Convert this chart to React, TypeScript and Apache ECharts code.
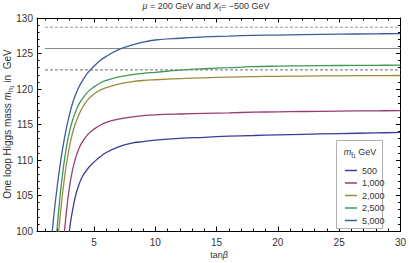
import React, { useEffect, useRef } from "react";
import * as echarts from "echarts";

// tan(beta) sample points
const tanBeta = [1.5, 1.75, 2, 2.25, 2.5, 2.75, 3, 3.25, 3.5, 3.75, 4, 4.5, 5, 5.5, 6, 7, 8, 9, 10, 12, 14, 16, 18, 20, 22, 25, 28, 30];

// One-loop Higgs mass (GeV) for each stop mass
const mh500 = [null, null, null, null, 88, 94.5, 100.1, 102.9, 105.0, 106.4, 107.5, 108.8, 109.7, 110.45, 111.05, 111.85, 112.35, 112.6, 112.8, 113.05, 113.2, 113.35, 113.45, 113.55, 113.62, 113.72, 113.82, 113.88];
const mh1000 = [null, null, 88, 93.5, 98.3, 102.7, 106.2, 108.6, 110.3, 111.5, 112.4, 113.6, 114.35, 114.9, 115.3, 115.75, 116.05, 116.25, 116.36, 116.48, 116.57, 116.65, 116.73, 116.78, 116.83, 116.88, 116.93, 116.95];
const mh2000 = [null, 91, 97.6, 102.3, 106.2, 109.4, 111.9, 113.8, 115.2, 116.3, 117.2, 118.5, 119.3, 119.85, 120.2, 120.7, 121.0, 121.2, 121.3, 121.45, 121.58, 121.67, 121.74, 121.79, 121.82, 121.86, 121.89, 121.9];
const mh2500 = [88, 95, 100.6, 105.2, 108.9, 111.8, 114.0, 115.6, 116.8, 117.8, 118.5, 119.6, 120.3, 120.85, 121.2, 121.7, 122.0, 122.2, 122.35, 122.65, 122.85, 123.0, 123.15, 123.22, 123.27, 123.31, 123.34, 123.35];
const mh5000 = [98.3, 102.6, 106.3, 109.5, 112.2, 114.5, 116.4, 118.0, 119.2, 120.2, 121.0, 122.3, 123.2, 124.0, 124.6, 125.55, 126.15, 126.6, 126.9, 127.15, 127.35, 127.45, 127.55, 127.6, 127.65, 127.72, 127.77, 127.8];

const seriesNames = ["500", "1,000", "2,000", "2,500", "5,000"];
const seriesValues = [mh500, mh1000, mh2000, mh2500, mh5000];
const seriesColors = ["#3d3d99", "#993d71", "#998c3d", "#3d9954", "#3d5c99"];

// Reference Higgs mass band
const refX = [1, 30];
const higgsCentral = 125.7;
const higgsLow = 122.7;
const higgsHigh = 128.7;

// ticks
const xMajor = [5, 10, 15, 20, 25, 30];
const xMinor = Array.from({ length: 30 }, (_, i) => i + 1);

const FONT = "'Liberation Sans', Arial, sans-serif";

export default function App() {
  const ref = useRef<HTMLDivElement>(null);
  useEffect(() => {
    const chart = echarts.init(ref.current!, undefined, { renderer: "svg" });
    const xBase = { type: "value", min: 0.35, max: 30, splitLine: { show: false }, gridIndex: 0 };
    const yBase = { type: "value", min: 100, max: 130, interval: 5, splitLine: { show: false }, minorSplitLine: { show: false } };
    const lineBlack = { show: true, lineStyle: { color: "#000", width: 1 } };
    const curves = seriesNames.map((name, i) => ({
      name,
      type: "line",
      data: tanBeta.map((t, j) => [t, seriesValues[i][j]]),
      showSymbol: false,
      symbol: "none",
      smooth: 0.4,
      clip: true,
      lineStyle: { color: seriesColors[i], width: 1.3 },
      itemStyle: { color: seriesColors[i] },
      z: 3,
    }));
    const refLine = (v: number, dashed: boolean, color: string) => ({
      type: "line",
      data: refX.map((x) => [x, v]),
      showSymbol: false,
      symbol: "none",
      silent: true,
      lineStyle: { color, width: 1.1, type: dashed ? [3, 2] : "solid" },
      z: 2,
    });
    chart.setOption({
      animation: false,
      grid: { left: 37, right: 7, top: 18, bottom: 32, containLabel: false },
      xAxis: [
        {
          ...xBase,
          position: "bottom",
          axisLine: lineBlack,
          axisTick: { show: true, inside: true, length: 4.5, customValues: xMajor, lineStyle: { color: "#000" } },
          axisLabel: { customValues: xMajor, fontSize: 10, color: "#333", fontFamily: FONT, margin: 6 },
        },
        {
          ...xBase,
          position: "bottom",
          axisLine: { show: false },
          axisTick: { show: true, inside: true, length: 2.5, customValues: xMinor, lineStyle: { color: "#000" } },
          axisLabel: { show: false },
        },
        {
          ...xBase,
          position: "top",
          axisLine: lineBlack,
          axisTick: { show: true, inside: true, length: 4.5, customValues: xMajor, lineStyle: { color: "#000" } },
          axisLabel: { show: false },
        },
        {
          ...xBase,
          position: "top",
          axisLine: { show: false },
          axisTick: { show: true, inside: true, length: 2.5, customValues: xMinor, lineStyle: { color: "#000" } },
          axisLabel: { show: false },
        },
      ],
      yAxis: [
        {
          ...yBase,
          position: "left",
          axisLine: lineBlack,
          axisTick: { show: true, inside: true, length: 4.5, lineStyle: { color: "#000" } },
          minorTick: { show: true, splitNumber: 5, length: 2.5, lineStyle: { color: "#000" } },
          axisLabel: { fontSize: 10, color: "#333", fontFamily: FONT, margin: 4 },
        },
        {
          ...yBase,
          position: "right",
          axisLine: lineBlack,
          axisTick: { show: true, inside: true, length: 4.5, lineStyle: { color: "#000" } },
          minorTick: { show: true, splitNumber: 5, length: 2.5, lineStyle: { color: "#000" } },
          axisLabel: { show: false },
        },
      ],
      legend: {
        orient: "vertical",
        left: 340,
        top: 161,
        z: 20,
        itemWidth: 12,
        itemHeight: 1.5,
        itemGap: 3.5,
        icon: "rect",
        data: seriesNames,
        textStyle: { fontSize: 9, lineHeight: 9, color: "#333", fontFamily: FONT },
        selectedMode: false,
      },
      graphic: [
        {
          type: "rect",
          shape: { x: 336.5, y: 140.5, width: 46, height: 88 },
          style: { fill: "#fff", stroke: "#b0b0b0", lineWidth: 1 },
          z: 1,
        },
        {
          type: "text",
          x: 360,
          y: 152,
          z: 5,
          style: {
            text: "{it|m}{sub|t̃}{subsub|1} GeV",
            align: "center",
            verticalAlign: "middle",
            fontSize: 9,
            fontFamily: FONT,
            fill: "#333",
            rich: {
              it: { fontStyle: "italic", fontSize: 9, fontFamily: FONT, fill: "#333", lineHeight: 12 },
              sub: { fontSize: 6.5, fontFamily: FONT, fill: "#333", verticalAlign: "bottom", lineHeight: 12 },
              subsub: { fontSize: 5, fontFamily: FONT, fill: "#333", verticalAlign: "bottom", lineHeight: 13 },
            },
          },
        },
        {
          type: "text",
          x: 206,
          y: 6,
          style: {
            text: "{it|μ} = 200 GeV and {it|X}{sub|t}= −500 GeV",
            align: "center",
            verticalAlign: "middle",
            fontSize: 9,
            fontFamily: FONT,
            fill: "#333",
            rich: {
              it: { fontStyle: "italic", fontSize: 9, fontFamily: FONT, fill: "#333", lineHeight: 12 },
              sub: { fontSize: 6.5, fontFamily: FONT, fill: "#333", verticalAlign: "bottom", lineHeight: 12 },
            },
          },
        },
        {
          type: "text",
          x: 219,
          y: 255,
          style: {
            text: "tan{it|β}",
            align: "center",
            verticalAlign: "middle",
            fontSize: 9,
            fontFamily: FONT,
            fill: "#333",
            rich: {
              it: { fontStyle: "italic", fontSize: 9, fontFamily: FONT, fill: "#333" },
            },
          },
        },
        {
          type: "text",
          x: 7,
          y: 124,
          rotation: Math.PI / 2,
          style: {
            text: "One loop Higgs mass {it|m}{sub|h}{subsub|1} in  GeV",
            align: "center",
            verticalAlign: "middle",
            fontSize: 10,
            fontFamily: FONT,
            fill: "#333",
            rich: {
              it: { fontStyle: "italic", fontSize: 10, fontFamily: FONT, fill: "#333", lineHeight: 13 },
              sub: { fontSize: 7, fontFamily: FONT, fill: "#333", verticalAlign: "bottom", lineHeight: 13 },
              subsub: { fontSize: 5, fontFamily: FONT, fill: "#333", verticalAlign: "bottom", lineHeight: 14 },
            },
          },
        },
      ],
      series: [
        refLine(higgsHigh, true, "#999"),
        refLine(higgsCentral, false, "#888"),
        refLine(higgsLow, true, "#888"),
        ...curves,
      ],
    });
    return () => chart.dispose();
  }, []);
  return (
    <div
      ref={ref}
      style={{ position: "absolute", left: 0, top: 0, width: 409, height: 263, background: "#fff" }}
    />
  );
}
